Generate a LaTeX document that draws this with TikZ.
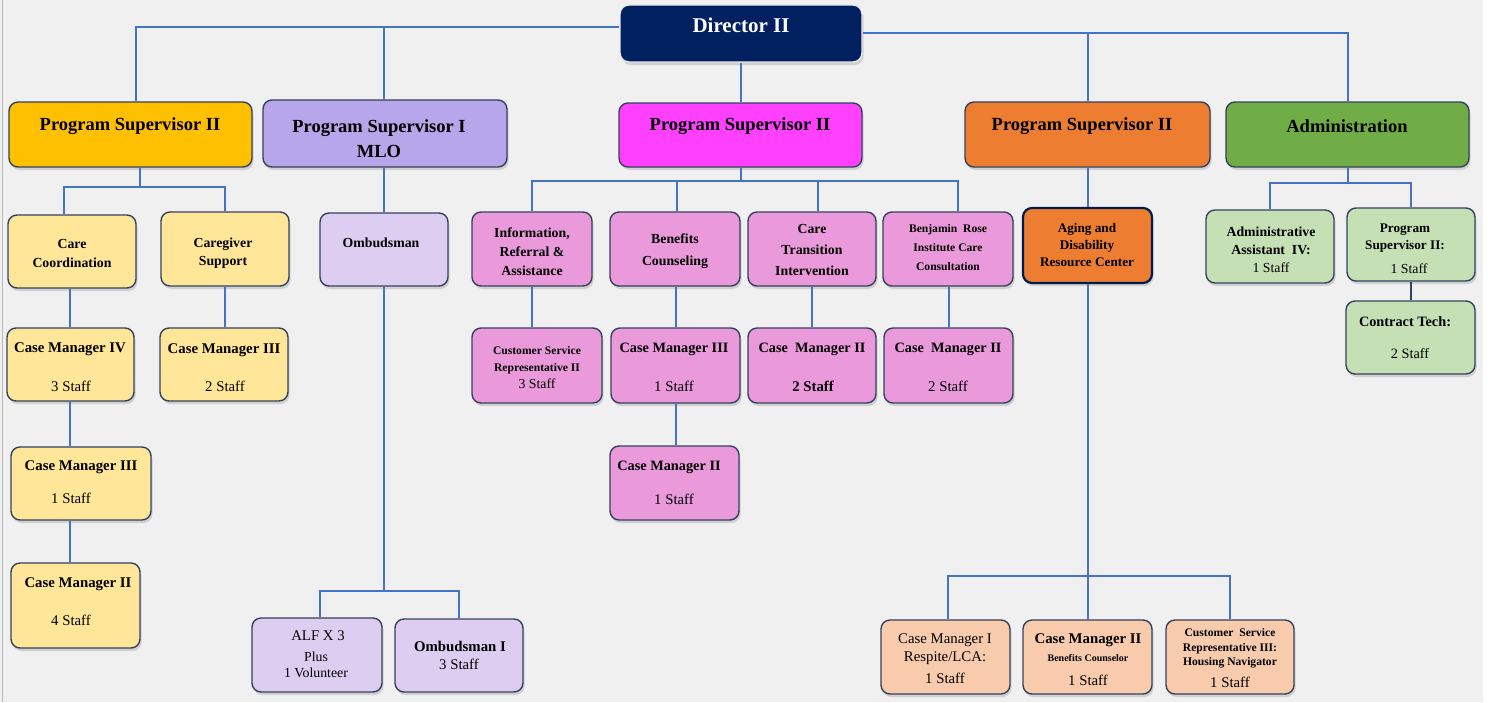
\documentclass[tikz,border=0pt]{standalone}
\usepackage{fontspec}
\setmainfont{Liberation Serif}
\usetikzlibrary{fit,shadows}
\definecolor{bgc}{HTML}{F0F0F0}
\definecolor{connc}{HTML}{4472C4}
\definecolor{bordc}{HTML}{34425E}
\definecolor{navy}{HTML}{002060}
\definecolor{gold}{HTML}{FFC000}
\definecolor{lilac}{HTML}{B8A6EA}
\definecolor{magen}{HTML}{FF40FF}
\definecolor{orng}{HTML}{ED7D31}
\definecolor{grn}{HTML}{70AD47}
\definecolor{lyel}{HTML}{FFE699}
\definecolor{llav}{HTML}{DDCDF0}
\definecolor{pnk}{HTML}{EA9ADA}
\definecolor{peach}{HTML}{F8CBAD}
\definecolor{lgrn}{HTML}{C5E0B4}
\tikzset{
  box/.style={draw=bordc, line width=1.4pt, rounded corners=9pt, inner sep=0pt,
    drop shadow={opacity=0.28, shadow xshift=1.5pt, shadow yshift=-3pt}},
  conn/.style={draw=connc, line width=2pt},
  tb/.style={inner sep=0pt, align=center, text=black, font=\bfseries},
  t/.style={inner sep=0pt, align=center, text=black},
}
\newcommand\bx[6]{\node[box,#6,fit={(#2,#3)(#4,#5)}] (#1) {};}
\begin{document}
\begin{tikzpicture}[x=1pt,y=-1pt]
\useasboundingbox (0,0) rectangle (1488,702);
\fill[bgc] (0,0) rectangle (1483,702);
\fill[white] (1483,0) rectangle (1488,702);
\draw[gray!55, line width=1pt] (2,0) -- (2,702);

% ---------- boxes ----------
\bx{dir}{620}{5}{862}{62}{fill=navy, draw=white!85!gray}
\bx{ps1}{9}{102}{252}{167}{fill=gold}
\bx{mlo}{263}{100}{507}{167}{fill=lilac}
\bx{mps}{619}{103}{862}{167}{fill=magen}
\bx{ops}{965}{102}{1210}{167}{fill=orng}
\bx{adm}{1226}{102}{1469}{167}{fill=grn}

\bx{cc}{8}{215}{136}{288}{fill=lyel}
\bx{cs}{161}{212}{289}{286}{fill=lyel}
\bx{cmfour}{7}{328}{134}{401}{fill=lyel}
\bx{cmthreea}{160}{328}{288}{401}{fill=lyel}
\bx{cmthreeb}{11}{447}{151}{520}{fill=lyel}
\bx{cmtwoa}{11}{563}{140}{648}{fill=lyel}

\bx{omb}{320}{213}{448}{286}{fill=llav}
\bx{alf}{252}{618}{382}{692}{fill=llav}
\bx{ombone}{395}{619}{523}{692}{fill=llav}

\bx{info}{472}{212}{592}{286}{fill=pnk}
\bx{ben}{610}{212}{740}{286}{fill=pnk}
\bx{ctr}{748}{212}{876}{286}{fill=pnk}
\bx{bri}{883}{212}{1013}{286}{fill=pnk}
\bx{csr}{472}{328}{602}{403}{fill=pnk}
\bx{cmthreec}{611}{328}{740}{403}{fill=pnk}
\bx{cmtwob}{748}{328}{876}{403}{fill=pnk}
\bx{cmtwoc}{884}{328}{1013}{403}{fill=pnk}
\bx{cmtwod}{610}{446}{739}{520}{fill=pnk}

\bx{adrc}{1023}{208}{1152}{283}{fill=orng, draw=navy!80!black, line width=2.2pt}
\bx{pa}{881}{620}{1010}{694}{fill=peach}
\bx{pb}{1023}{620}{1152}{694}{fill=peach}
\bx{pc}{1166}{620}{1294}{694}{fill=peach}

\bx{aa}{1206}{210}{1334}{283}{fill=lgrn}
\bx{pstwo}{1347}{208}{1475}{281}{fill=lgrn}
\bx{ctech}{1346}{301}{1475}{374}{fill=lgrn}

% ---------- connectors ----------
\coordinate (tl) at ([yshift=7pt]dir.west);
\coordinate (tr) at ([yshift=1pt]dir.east);
\draw[conn] (tl) -| ([xshift=5.5pt]ps1.north);
\draw[conn] (tl -| omb.north) -- (omb.north |- mlo.north);
\draw[conn] (tr) -| (adm.north);
\draw[conn] (tr -| ops.north) -- (ops.north);
\draw[conn] (dir.south) -- (dir.south |- mps.north);

\coordinate (bya) at (0,187);
\draw[conn] ([xshift=9pt]ps1.south) -- ([xshift=9pt]ps1.south |- bya);
\draw[conn] ([xshift=-8pt]cc.north) |- (bya -| cs.north) -- (cs.north);
\draw[conn] ([xshift=-2pt]cc.south) -- ([xshift=-2pt]cc.south |- cmfour.north);
\draw[conn] (cs.south) -- (cs.south |- cmthreea.north);
\draw[conn] ([xshift=-2pt]cc.south |- cmfour.south) -- ([xshift=-2pt]cc.south |- cmthreeb.north);
\draw[conn] ([xshift=-2pt]cc.south |- cmthreeb.south) -- ([xshift=-2pt]cc.south |- cmtwoa.north);

\coordinate (byb) at (0,591);
\draw[conn] (omb.north |- mlo.south) -- (omb.north);
\draw[conn] (omb.south) -- (omb.south |- byb);
\draw[conn] ([xshift=3pt]alf.north) |- (byb -| ombone.north) -- (ombone.north);

\coordinate (byc) at (0,181);
\draw[conn] (mps.south) -- (mps.south |- byc);
\draw[conn] ([xshift=10pt]bri.north) |- (byc -| info.north) -- (info.north);
\draw[conn] ([xshift=2pt]ben.north) -- ([xshift=2pt]ben.north |- byc);
\draw[conn] ([xshift=6pt]ctr.north) -- ([xshift=6pt]ctr.north |- byc);
\draw[conn] (info.south) -- (info.south |- csr.north);
\draw[conn] (cmthreec.north) -- (cmthreec.north |- ben.south);
\draw[conn] (ctr.south) -- (ctr.south |- cmtwob.north);
\draw[conn] (cmtwoc.north) -- (cmtwoc.north |- bri.south);
\draw[conn] (cmthreec.south) -- (cmthreec.south |- cmtwod.north);

\coordinate (byd) at (0,576);
\draw[conn] (ops.south) -- (adrc.north);
\draw[conn] (adrc.south) -- (pb.north);
\draw[conn] ([xshift=2.5pt]pa.north) |- (byd -| pc.north) -- (pc.north);

\coordinate (bye) at (0,183);
\draw[conn] (adm.south) -- (adm.south |- bye);
\draw[conn] (aa.north) |- (bye -| pstwo.north) -- (pstwo.north);
\draw[draw=bordc, line width=2pt] (pstwo.south) -- (pstwo.south |- ctech.north);

% ---------- texts ----------
\node[tb, text=white, font=\bfseries\fontsize{21}{24}\selectfont] (tdir) at (741,25) {Director II};
\node[tb, font=\bfseries\fontsize{18.5}{21}\selectfont] (tps1) at (130,126) {Program Supervisor II};
\node[tb, font=\bfseries\fontsize{18.5}{25}\selectfont] (tmlo) at (379,139) {Program Supervisor I\\MLO};
\node[tb, font=\bfseries\fontsize{18.5}{21}\selectfont] (tmps) at (740,126) {Program Supervisor II};
\node[tb, font=\bfseries\fontsize{18.5}{21}\selectfont] (tops) at (1082,126) {Program Supervisor II};
\node[tb, font=\bfseries\fontsize{18.5}{21}\selectfont] (tadm) at (1347,126) {Administration};

\node[tb, font=\bfseries\fontsize{13.8}{19}\selectfont] (tcc) at (72,253) {Care\\Coordination};
\node[tb, font=\bfseries\fontsize{13.8}{18}\selectfont] (tcs) at (223,253) {Caregiver\\Support};
\node[tb, font=\bfseries\fontsize{14.8}{16}\selectfont] (tcm4) at (70,349) {Case Manager IV};
\node[t, font=\fontsize{14.8}{16}\selectfont] (tcm4s) at (71,386) {3 Staff};
\node[tb, font=\bfseries\fontsize{14.8}{16}\selectfont] (tcm3a) at (224,350) {Case Manager III};
\node[t, font=\fontsize{14.8}{16}\selectfont] (tcm3as) at (225,386) {2 Staff};
\node[tb, font=\bfseries\fontsize{14.8}{16}\selectfont] (tcm3b) at (81,467) {Case Manager III};
\node[t, font=\fontsize{14.8}{16}\selectfont] (tcm3bs) at (71,498) {1 Staff};
\node[tb, font=\bfseries\fontsize{14.8}{16}\selectfont] (tcm2a) at (78,584) {Case Manager II};
\node[t, font=\fontsize{14.8}{16}\selectfont] (tcm2as) at (71,620) {4 Staff};

\node[tb, font=\bfseries\fontsize{13.8}{16}\selectfont] (tomb) at (381,243) {Ombudsman};
\node[t, font=\fontsize{14.8}{16}\selectfont] (talf) at (318,636) {ALF X 3};
\node[t, font=\fontsize{13.8}{16}\selectfont] (talfb) at (316,665) {Plus\\1 Volunteer};
\node[tb, font=\bfseries\fontsize{14.8}{16}\selectfont] (tomb1) at (460,646) {Ombudsman I};
\node[t, font=\fontsize{14.8}{16}\selectfont] (tomb1s) at (459,664) {3 Staff};

\node[tb, font=\bfseries\fontsize{13.8}{19}\selectfont] (tinfo) at (532,252) {Information,\\Referral \&\\Assistance};
\node[tb, font=\bfseries\fontsize{13.8}{22}\selectfont] (tben) at (675,251) {Benefits\\Counseling};
\node[tb, font=\bfseries\fontsize{13.8}{21}\selectfont] (tctr) at (812,250) {Care\\Transition\\Intervention};
\node[tb, font=\bfseries\fontsize{11.6}{19}\selectfont] (tbri) at (948,248) {Benjamin~~Rose\\Institute Care\\Consultation};
\node[tb, font=\bfseries\fontsize{11.6}{17}\selectfont] (tcsr) at (537,360.5) {Customer Service\\Representative II};
\node[t, font=\fontsize{13.8}{16}\selectfont] (tcsrs) at (537,384) {3 Staff};
\node[tb, font=\bfseries\fontsize{14.3}{16}\selectfont] (tcm3c) at (674,349) {Case Manager III};
\node[t, font=\fontsize{14.8}{16}\selectfont] (tcm3cs) at (674,386) {1 Staff};
\node[tb, font=\bfseries\fontsize{14.3}{16}\selectfont] (tcm2b) at (812,349) {Case~~Manager II};
\node[tb, font=\bfseries\fontsize{14.8}{16}\selectfont] (tcm2bs) at (813,386) {2 Staff};
\node[tb, font=\bfseries\fontsize{14.3}{16}\selectfont] (tcm2c) at (948,349) {Case~~Manager II};
\node[t, font=\fontsize{14.8}{16}\selectfont] (tcm2cs) at (948,386) {2 Staff};
\node[tb, font=\bfseries\fontsize{14.3}{16}\selectfont] (tcm2d) at (669,467) {Case Manager II};
\node[t, font=\fontsize{14.8}{16}\selectfont] (tcm2ds) at (674,499) {1 Staff};

\node[tb, font=\bfseries\fontsize{13.2}{17}\selectfont] (tadrc) at (1087,245) {Aging and\\Disability\\Resource Center};
\node[t, font=\fontsize{14.8}{18}\selectfont] (tpa) at (945,649) {Case Manager I\\Respite/LCA:};
\node[t, font=\fontsize{14.8}{16}\selectfont] (tpas) at (945,678) {1 Staff};
\node[tb, font=\bfseries\fontsize{14.8}{16}\selectfont] (tpb) at (1088,640) {Case Manager II};
\node[tb, font=\bfseries\fontsize{10}{12}\selectfont] (tpbb) at (1088,658) {Benefits Counselor};
\node[t, font=\fontsize{14.8}{16}\selectfont] (tpbs) at (1088,680) {1 Staff};
\node[tb, font=\bfseries\fontsize{11.6}{14.5}\selectfont] (tpc) at (1230,648.5) {Customer~~Service\\Representative III:\\Housing Navigator};
\node[t, font=\fontsize{14.8}{16}\selectfont] (tpcs) at (1230,682) {1 Staff};

\node[tb, font=\bfseries\fontsize{13.8}{18}\selectfont] (taa) at (1271,241) {Administrative\\Assistant~~IV:};
\node[t, font=\fontsize{13.8}{16}\selectfont] (taas) at (1271,268) {1 Staff};
\node[tb, font=\bfseries\fontsize{13.2}{17}\selectfont] (tps2) at (1405,238.5) {Program\\Supervisor II:};
\node[t, font=\fontsize{13.8}{16}\selectfont] (tps2s) at (1409,269) {1 Staff};
\node[tb, font=\bfseries\fontsize{14.3}{16}\selectfont] (tct) at (1405,322) {Contract Tech:};
\node[t, font=\fontsize{14.3}{16}\selectfont] (tcts) at (1410,354) {2 Staff};
\end{tikzpicture}
\end{document}
